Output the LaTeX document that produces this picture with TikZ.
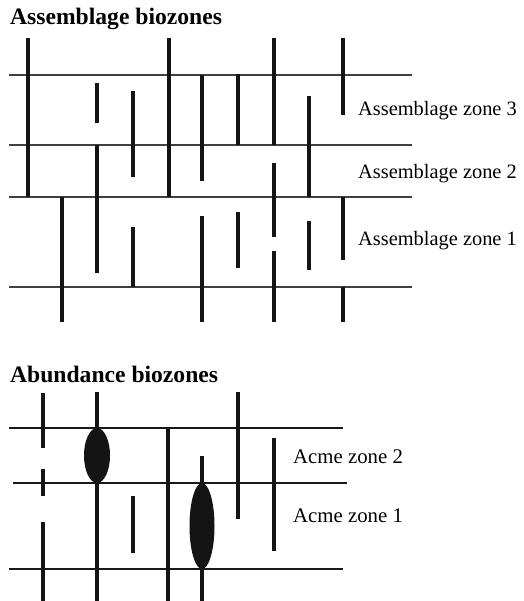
\documentclass[tikz,border=0pt]{standalone}
\usepackage{fontspec}
\setmainfont{Liberation Serif}
\begin{document}
\begin{tikzpicture}[x=1pt,y=-1pt,
  hline/.style={line width=1.2pt,draw=black!75},
  hlineb/.style={line width=1.1pt,draw=black!90},
  bar/.style={line width=3.2pt,draw=black!92},
  blob/.style={fill=black!92,draw=none},
  ttl/.style={anchor=base west,inner sep=0pt,font=\fontsize{23.6}{26}\selectfont\bfseries},
  lbl/.style={anchor=base west,inner sep=0pt,font=\fontsize{20.4}{24}\selectfont},
  lbla/.style={anchor=base west,inner sep=0pt,font=\fontsize{20.8}{24}\selectfont}]
\useasboundingbox (0,0) rectangle (523,601);
% ---------- Assemblage biozones ----------
\node[ttl] (t1) at (10,25) {Assemblage biozones};
\foreach \y in {75,145,197,287} \draw[hline] (9,\y) -- (412,\y);
% vertical ranges
\foreach \x/\a/\b in {28/38/197, 97/83/123, 97/145/273, 133/91/177, 133/227/287,
  169/38/197, 62/197/322, 202/75/181, 202/216/322, 238/74/145, 238/212/268,
  274/38/145, 274/163/237, 274/251/322, 309/96/197, 309/221/270,
  343/38/115, 343/197/260, 343/287/322}
  \draw[bar] (\x,\a) -- (\x,\b);
\node[lbl] (z3) at (358,115.5) {Assemblage zone 3};
\node[lbl] (z2) at (358,178.5) {Assemblage zone 2};
\node[lbl] (z1) at (358,245) {Assemblage zone 1};
% ---------- Abundance biozones ----------
\node[ttl] (t2) at (10,382) {Abundance biozones};
\draw[hlineb] (9,428) -- (343,428);
\draw[hlineb] (13,483) -- (347,483);
\draw[hlineb] (9,569) -- (343,569);
\foreach \x/\a/\b in {43/393/448, 43/469/496, 43/522/601, 97/392/601, 133/496/553,
  168/428/601, 202/456/601, 238/392/519, 274/438/551}
  \draw[bar] (\x,\a) -- (\x,\b);
\fill[blob] (97,455.5) ellipse [x radius=13, y radius=27.5];
\fill[blob] (202,526) ellipse [x radius=12.5, y radius=43];
\node[lbla] (a2) at (293,463) {Acme zone 2};
\node[lbla] (a1) at (293,522) {Acme zone 1};
\end{tikzpicture}
\end{document}
